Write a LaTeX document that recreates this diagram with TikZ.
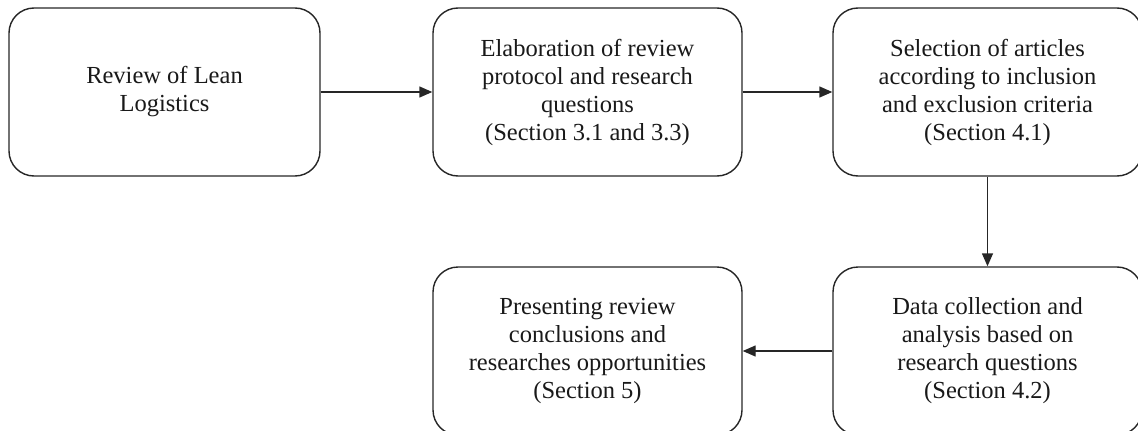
\documentclass[tikz,border=0pt]{standalone}
\usepackage{fontspec}
\setmainfont{Liberation Serif}
\usetikzlibrary{arrows.meta}
\tikzset{
  stepbox/.style={draw=black!85, line width=1.4pt, rounded corners=25pt,
    minimum width=309pt, minimum height=168pt, align=center, text=black!90,
    font=\fontsize{24.5}{28}\selectfont, inner sep=0pt},
  conn/.style={draw=black!85, line width=1.4pt, -{Triangle[length=13pt,width=11pt]}}
}
\begin{document}
\begin{tikzpicture}[x=1pt,y=-1pt]
\useasboundingbox (0,0) rectangle (1138,431);
\clip (0,0) rectangle (1138,431);
\node[stepbox, minimum width=311pt] (a) at (164.5,92) {Review of Lean\\Logistics};
\node[stepbox] (b) at (587.5,92) {Elaboration of review\\protocol and research\\questions\\(Section 3.1 and 3.3)};
\node[stepbox] (c) at (987.5,92) {Selection of articles\\according to inclusion\\and exclusion criteria\\(Section 4.1)};
\node[stepbox] (d) at (987.5,351) {Data collection and\\analysis based on\\research questions\\(Section 4.2)};
\node[stepbox] (e) at (587.5,351) {Presenting review\\conclusions and\\researches opportunities\\(Section 5)};
\draw[conn] (a) -- (b);
\draw[conn] (b) -- (c);
\draw[conn] (c) -- (d);
\draw[conn] (d) -- (e);
\end{tikzpicture}
\end{document}
